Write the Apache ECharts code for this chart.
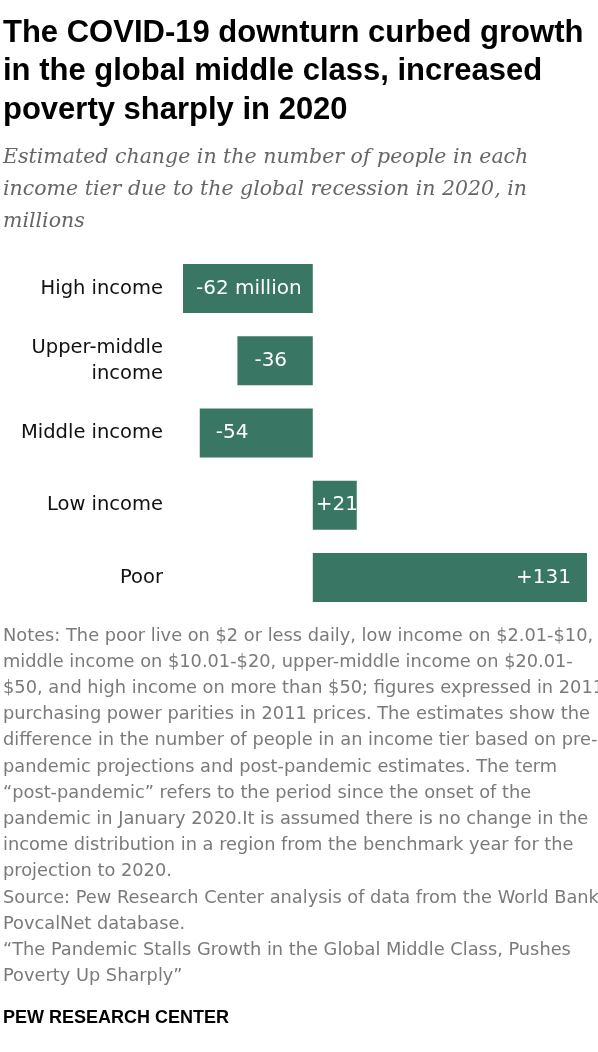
<!DOCTYPE html>
<html>
<head>
<meta charset="utf-8">
<script src="https://cdn.jsdelivr.net/npm/echarts@6/dist/echarts.min.js"></script>
<style>
  html, body { margin: 0; padding: 0; background: #fff; }
  #chart { width: 598px; height: 1052px; }
</style>
</head>
<body>
<div id="chart"></div>
<script>
const categories = ['High income', 'Upper-middle\nincome', 'Middle income', 'Low income', 'Poor'];
const values = [-62, -36, -54, 21, 131];
const valueLabels = ['-62 million', '-36', '-54', '+21', '+131'];

const titleText = 'The COVID-19 downturn curbed growth\nin the global middle class, increased\npoverty sharply in 2020';
const subtitleText = 'Estimated change in the number of people in each\nincome tier due to the global recession in 2020, in\nmillions';
const notesLines = [
  'Notes: The poor live on $2 or less daily, low income on $2.01-$10,',
  'middle income on $10.01-$20, upper-middle income on $20.01-',
  '$50, and high income on more than $50; figures expressed in 2011',
  'purchasing power parities in 2011 prices. The estimates show the',
  'difference in the number of people in an income tier based on pre-',
  'pandemic projections and post-pandemic estimates. The term',
  '\u201Cpost-pandemic\u201D refers to the period since the onset of the',
  'pandemic in January 2020.It is assumed there is no change in the',
  'income distribution in a region from the benchmark year for the',
  'projection to 2020.',
  'Source: Pew Research Center analysis of data from the World Bank',
  'PovcalNet database.',
  '\u201CThe Pandemic Stalls Growth in the Global Middle Class, Pushes',
  'Poverty Up Sharply\u201D'
];
const footerText = 'PEW RESEARCH CENTER';

const BAR_COLOR = '#3a7664';
const labelDistances = [13, 17, 16, 3, 16];

const chart = echarts.init(document.getElementById('chart'), null, { renderer: 'canvas' });

const seriesData = values.map((v, i) => ({
  value: v,
  label: {
    position: v < 0 ? 'insideLeft' : (i === 3 ? 'insideLeft' : 'insideRight'),
    distance: labelDistances[i],
    formatter: valueLabels[i]
  }
}));

chart.setOption({
  animation: false,
  backgroundColor: '#fff',
  grid: { left: 183, right: 11, top: 252.4, height: 361.2, containLabel: false },
  xAxis: {
    type: 'value', min: -62, max: 131,
    show: false
  },
  yAxis: {
    type: 'category', data: categories, inverse: true,
    axisLine: { show: false, onZero: false },
    axisTick: { show: false },
    splitLine: { show: false },
    axisLabel: {
      margin: 20,
      color: '#111',
      fontFamily: 'DejaVu Sans',
      fontSize: 19.5,
      lineHeight: 26,
      align: 'right'
    }
  },
  series: [{
    type: 'bar',
    data: seriesData,
    barWidth: 49,
    itemStyle: { color: BAR_COLOR },
    label: {
      show: true,
      color: '#fff',
      fontFamily: 'DejaVu Sans',
      fontSize: 20
    }
  }],
  graphic: [
    {
      type: 'text', left: 3, top: 13.75,
      style: {
        text: titleText,
        font: 'bold 31px "Liberation Sans", Arial, sans-serif',
        lineHeight: 38.5,
        fill: '#000'
      }
    },
    {
      type: 'text', left: 3, top: 142,
      style: {
        text: subtitleText,
        font: 'italic 20.5px "DejaVu Serif", serif',
        lineHeight: 32,
        fill: '#666'
      }
    },
    {
      type: 'text', left: 3, top: 622.9,
      style: {
        text: notesLines.join('\n'),
        font: '17.8px "DejaVu Sans", sans-serif',
        lineHeight: 26.2,
        fill: '#7a7a7a'
      }
    },
    {
      type: 'text', left: 3, top: 1005,
      style: {
        text: footerText,
        font: 'bold 18px "Liberation Sans", Arial, sans-serif',
        lineHeight: 26,
        fill: '#000'
      }
    }
  ]
});
</script>
</body>
</html>
